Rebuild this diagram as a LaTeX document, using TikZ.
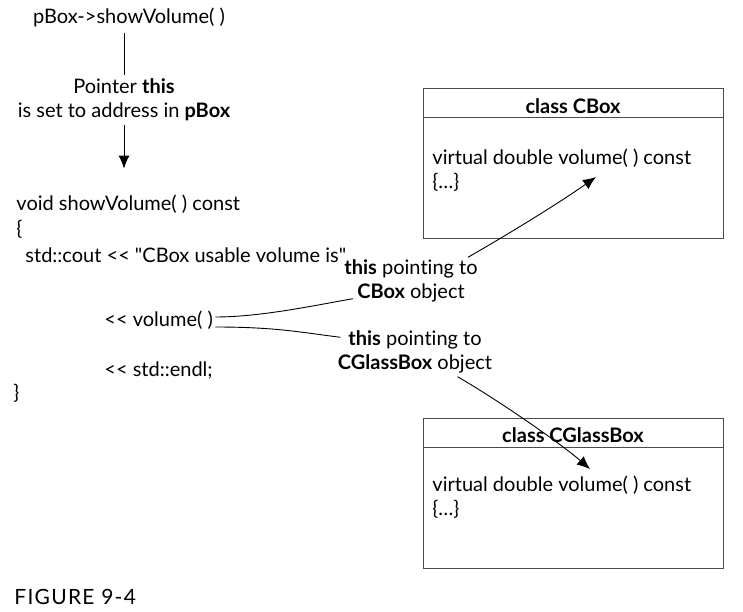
\documentclass[tikz,border=0pt]{standalone}
\usepackage{fontspec}
\setmainfont{Lato}[Ligatures={TeXOff,NoCommon}]
\usepackage{tikz}
\usetikzlibrary{shapes,arrows,arrows.meta,positioning,calc}

\begin{document}
\begin{tikzpicture}[x=1pt, y=-1pt, >={Latex[length=13pt,width=11pt]},
        every node/.style={font=\fontsize{20}{24}\selectfont, inner sep=0pt},
        every path/.style={line width=0.9pt},
        code/.style={anchor=west},
        note/.style={align=center},
        classbox/.style={draw=black!70, minimum width=300pt, minimum height=150pt},
        classtitle/.style={font=\fontsize{20}{24}\selectfont\bfseries, minimum height=23pt}]
        \useasboundingbox (0,0) rectangle (743,612);

        % the call and the pointer note
        \node (call) at (129,17) {pBox->showVolume( )};
        \node[note] (ptr) at (124,100) {Pointer \textbf{this}\\is set to address in \textbf{pBox}};

        % the function body, line by line
        \node[code] (def)   at (16,204)  {void showVolume( ) const};
        \node[code] (open)  at (16,229)  {\{};
        \node[code] (cout)  at (25,255)  {std::cout << "CBox usable volume is"};
        \node[code] (vol)   at (104,320) {<< volume( )};
        \node[code] (endl)  at (104,370) {<< std::endl;};
        \node[code] (close) at (13,393)  {\}};

        % labels on the two calls of volume()
        \node[note] (tocbox)  at (411,281) {\textbf{this} pointing to\\\textbf{CBox} object};
        \node[note] (toglass) at (415,352) {\textbf{this} pointing to\\\textbf{CGlassBox} object};

        % the two classes
        \node[classbox] (cbox) at (573,163.5) {};
        \node[classtitle, below=6pt of cbox.north] (cboxtitle) {class CBox};
        \draw[black!70] (cboxtitle.south -| cbox.west) -- (cboxtitle.south -| cbox.east);
        \node[code] (cboxvol) at (432,158) {virtual double volume( ) const};
        \node[code] (cboxdots) at (432,182) {\{…\}};
        \coordinate (cboxtip) at (596,177);

        \node[classbox] (glass) at (573,493) {};
        \node[classtitle, below=6pt of glass.north] (glasstitle) {class CGlassBox};
        \draw[black!70] (glasstitle.south -| glass.west) -- (glasstitle.south -| glass.east);
        \node[code] (glassvol) at (432,485) {virtual double volume( ) const};
        \node[code] (glassdots) at (432,509) {\{…\}};
        \coordinate (glasstip) at (590,469);

        \node[anchor=west, font=\fontsize{21}{24}\selectfont\addfontfeatures{LetterSpace=6}] (fig) at (14,597) {FIGURE 9-4};

        % connectors
        \draw[shorten <=6pt, shorten >=3pt] (call.south -| ptr.north) -- (ptr.north);         % line down to the note
        \draw[->, shorten <=3pt] (ptr.south) -- ([yshift=-47pt]ptr.south);                     % arrow to the definition
        \draw ([xshift=2pt,yshift=3pt]vol.east) .. controls +(45,0) and +(-40,7) .. ([xshift=9pt,yshift=4pt]tocbox.south west);       % to CBox note
        \draw ([xshift=2pt,yshift=-7pt]vol.east) .. controls +(60,0) and +(-40,-5) .. ([xshift=3pt,yshift=-7pt]toglass.north west);   % to CGlassBox note
        \draw[->] ([xshift=124pt,yshift=2pt]tocbox.north west) .. controls +(40,-23) and +(-40,28) .. (cboxtip);   % CBox object
        \draw[->] ([xshift=-35pt,yshift=-3pt]toglass.south east) .. controls +(40,23) and +(-30,-26) .. (glasstip); % CGlassBox object
\end{tikzpicture}
\end{document}
